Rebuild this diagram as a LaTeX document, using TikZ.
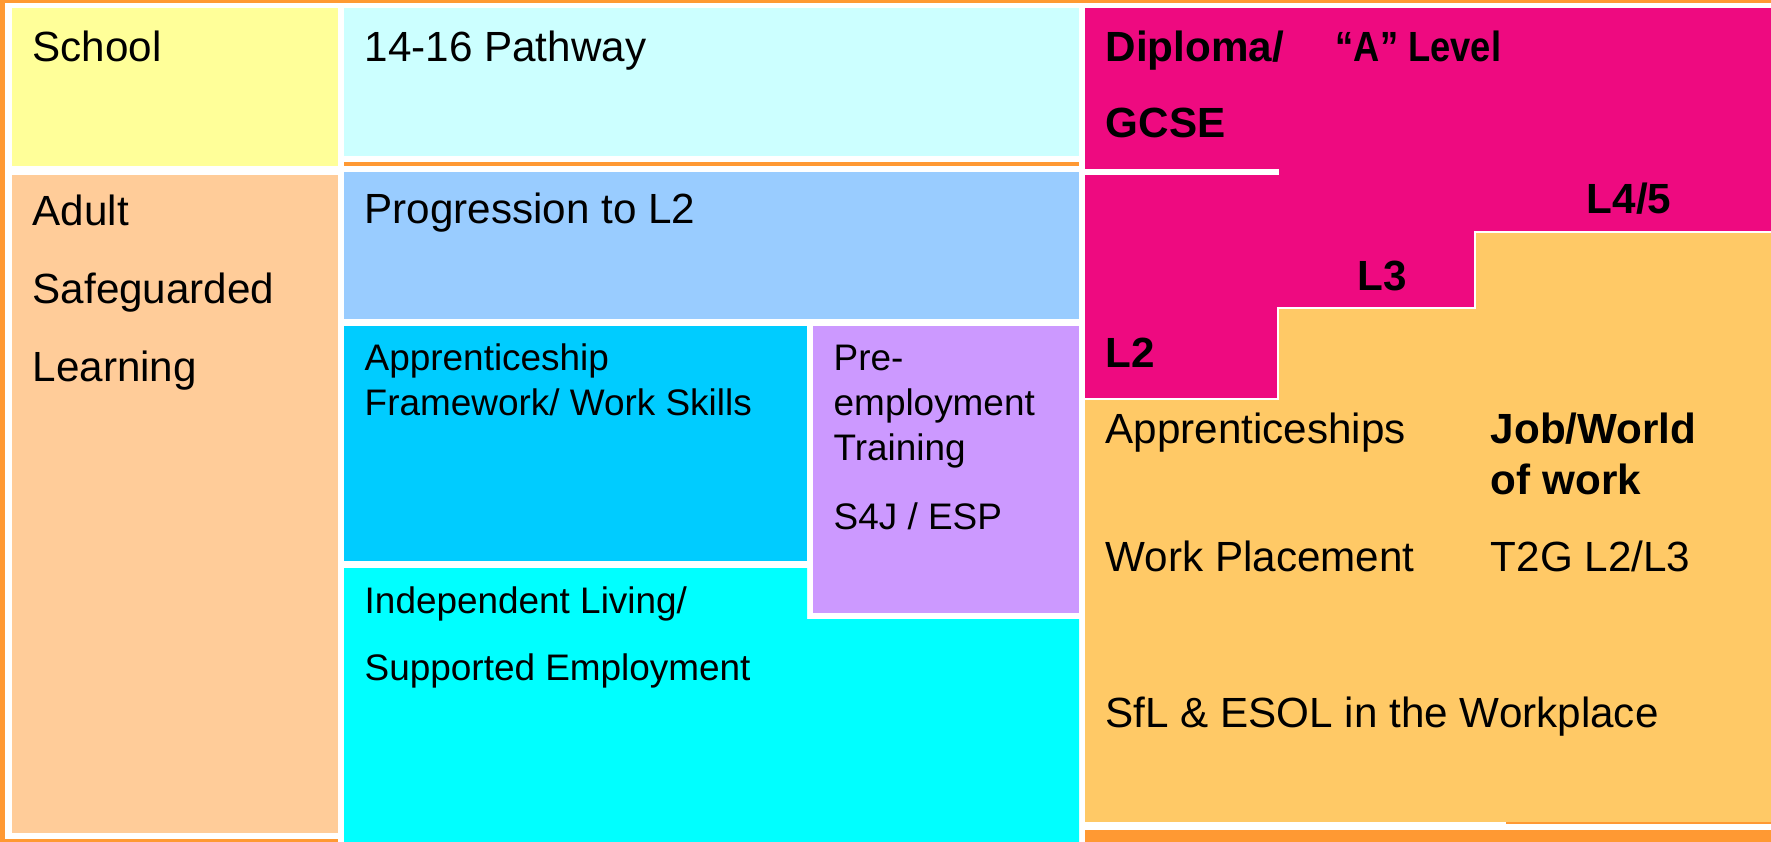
\documentclass[tikz,border=0pt]{standalone}
\usepackage{fontspec}
\setmainfont{Liberation Sans}
\usepackage{xcolor}
\usepackage{graphicx}
\usetikzlibrary{positioning}

\definecolor{schoolyellow}{HTML}{FFFF99}
\definecolor{pathcyan}{HTML}{CCFFFF}
\definecolor{adultpeach}{HTML}{FFCC99}
\definecolor{progblue}{HTML}{99CCFF}
\definecolor{apprblue}{HTML}{00CCFF}
\definecolor{prelilac}{HTML}{CC99FF}
\definecolor{indcyan}{HTML}{00FFFF}
\definecolor{levelpink}{HTML}{EE0A80}
\definecolor{workorange}{HTML}{FFC966}
\definecolor{frameorange}{HTML}{FF9933}

\begin{document}
\begin{tikzpicture}[x=0.01cm, y=-0.01cm]

\tikzset{
	cell/.style={
		rectangle,
		anchor=north west,
		inner sep=0pt,
		outer sep=0pt},
	txt/.style={
		anchor=base west,
		inner sep=0pt,
		font=\fontsize{12}{12.8}\selectfont},
	smalltxt/.style={
		txt,
		font=\fontsize{10.5}{12.8}\selectfont},
	boldtxt/.style={
		txt,
		font=\fontsize{12}{12.8}\selectfont\bfseries},
	rim/.style={
		fill=frameorange}
}

% page and orange frame
\fill[white] (0,0) rectangle (1771,842);
\useasboundingbox (0,0) rectangle (1771,842);
\fill[rim] (0,0) rectangle (1771,2.5);
\fill[rim] (0,0) rectangle (5,842);
\fill[rim] (0,839) rectangle (338,842);
\fill[rim] (1085,830) rectangle (1771,842);

% left and middle blocks
\node[cell,fill=schoolyellow,minimum width=3.26cm,minimum height=1.58cm] (school) at (12,8) {};
\node[cell,fill=pathcyan,minimum width=7.35cm,minimum height=1.48cm] (path) at (344,8) {};
\fill[rim] (344,162) rectangle (1079,166);
\node[cell,fill=adultpeach,minimum width=3.26cm,minimum height=6.58cm] (adult) at (12,175) {};
\node[cell,fill=progblue,minimum width=7.35cm,minimum height=1.47cm] (prog) at (344,172) {};
\node[cell,fill=apprblue,minimum width=4.63cm,minimum height=2.35cm] (appr) at (344,326) {};
\node[cell,fill=prelilac,minimum width=2.66cm,minimum height=2.87cm] (pre) at (813,326) {};
\fill[indcyan] (344,568) -- (807,568) -- (807,619) -- (1079,619) -- (1079,842) -- (344,842) -- cycle;
\coordinate (indep) at (344,568);

% right block: levels and work
\coordinate (rtop) at (1085,8);
\fill[workorange] (1085,232) rectangle (1771,822);
\fill[levelpink] (1085,8) -- (1771,8) -- (1771,232) -- (1475,232) -- (1475,308) -- (1278,308) -- (1278,399) -- (1085,399) -- cycle;
\draw[white,line width=0.6pt] (1085,399) -- (1278,399) -- (1278,308) -- (1475,308) -- (1475,232) -- (1771,232);
\fill[white] (1085,169) rectangle (1279,175);
\fill[rim] (1506,822) rectangle (1771,824);

\node[below right=0.53cm and 0.2cm of school.north west,txt] (tschool) {School};
\node[below right=0.53cm and 0.2cm of path.north west,txt] (tpath) {14-16 Pathway};
\node[below right=0.5cm and 0.2cm of adult.north west,txt] (tadult)
{\begin{tabular}[t]{@{}l@{}}Adult\\[0.33cm]Safeguarded\\[0.33cm]Learning\end{tabular}};
\node[below right=0.51cm and 0.2cm of prog.north west,txt] (tprog) {Progression to L2};
\node[below right=0.44cm and 0.2cm of appr.north west,smalltxt] (tappr)
{\begin{tabular}[t]{@{}l@{}}Apprenticeship\\Framework/ Work Skills\end{tabular}};
\node[below right=0.44cm and 0.2cm of pre.north west,smalltxt] (tpre)
{\begin{tabular}[t]{@{}l@{}}Pre-\\employment\\Training\\[0.24cm]S4J / ESP\end{tabular}};
\node[below right=0.45cm and 0.2cm of indep,smalltxt] (tindep)
{\begin{tabular}[t]{@{}l@{}}Independent Living/\\[0.22cm]Supported Employment\end{tabular}};

\node[below right=0.53cm and 0.2cm of rtop,boldtxt] (tdipl)
{\begin{tabular}[t]{@{}l@{}}Diploma/\\[0.31cm]GCSE\end{tabular}};
\node[below right=0.53cm and 2.5cm of rtop,boldtxt] (talev) {\scalebox{0.86}[1]{“A” Level}};
\node[below right=2.05cm and 5.01cm of rtop,boldtxt] (tlfour) {L4/5};
\node[below right=2.82cm and 2.72cm of rtop,boldtxt] (tlthree) {L3};
\node[below right=3.59cm and 0.2cm of rtop,boldtxt] (tltwo) {L2};
\node[below right=4.35cm and 0.2cm of rtop,txt] (tapps) {Apprenticeships};
\node[below right=4.35cm and 4.05cm of rtop,boldtxt] (tjob)
{\begin{tabular}[t]{@{}l@{}}Job/World\\[0.06cm]of work\end{tabular}};
\node[below right=5.63cm and 0.2cm of rtop,txt] (tplace) {Work Placement};
\node[below right=5.63cm and 4.05cm of rtop,txt] (ttwog) {T2G L2/L3};
\node[below right=7.19cm and 0.2cm of rtop,txt] (tsfl) {SfL \& ESOL in the Workplace};
\end{tikzpicture}
\end{document}
